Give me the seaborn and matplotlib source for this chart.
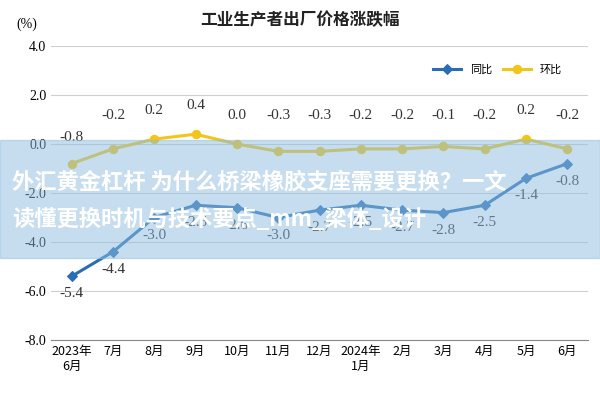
import matplotlib
matplotlib.use("Agg")
import matplotlib.pyplot as plt
import seaborn as sns
import pandas as pd

months = ["2023年\n6月","7月","8月","9月","10月","11月","12月","2024年\n1月","2月","3月","4月","5月","6月"]
yoy = [-5.4,-4.4,-3.0,-2.5,-2.6,-3.0,-2.7,-2.5,-2.7,-2.8,-2.5,-1.4,-0.8]
mom = [-0.8,-0.2,0.2,0.4,0.0,-0.3,-0.3,-0.2,-0.2,-0.1,-0.2,0.2,-0.2]
yticks = [4.0,2.0,0.0,-2.0,-4.0,-6.0,-8.0]

cjk = "Noto Sans CJK SC"
serif = "Liberation Serif"
df = pd.DataFrame({"x": range(len(months)), "同比": yoy, "环比": mom})

fig = plt.figure(figsize=(6, 4), dpi=100)
ax = fig.add_axes([0.085, 0.15, 0.895, 0.735])
blue, yellow = "#2a6db5", "#f2c516"
sns.lineplot(data=df, x="x", y="同比", ax=ax, color=blue, lw=2.2, marker="D", ms=5, mec=blue, label="同比")
sns.lineplot(data=df, x="x", y="环比", ax=ax, color=yellow, lw=2.2, marker="o", ms=6, mec=yellow, label="环比")
ax.set_ylim(-8, 4)
ax.set_xlim(-0.5, len(months) - 0.5)
ax.set_yticks(yticks)
ax.set_yticklabels([f"{v:.1f}" for v in yticks], fontfamily=serif, fontsize=10)
ax.set_xticks(range(len(months)))
ax.set_xticklabels(months, fontfamily=cjk, fontsize=9)
ax.set_xlabel(""); ax.set_ylabel("")
ax.grid(axis="y", color="#d0d0d0", lw=0.8)
for s in ["top", "right", "left"]:
    ax.spines[s].set_visible(False)
ax.spines["bottom"].set_color("#888")
ax.tick_params(axis="both", length=0)
for i, (a, b) in enumerate(zip(yoy, mom)):
    ax.text(i, a - 0.45, f"{a:.1f}", ha="center", va="top", fontfamily=serif, fontsize=11, color="#333")
    ax.text(i, max(b, 0) + 0.9 if i > 0 else 0.0, f"{b:.1f}", ha="center", va="bottom", fontfamily=serif, fontsize=11, color="#333")
ax.legend(loc="upper right", bbox_to_anchor=(0.97, 0.97), ncol=2, frameon=False,
          prop={"family": cjk, "size": 8}, handlelength=2.5, columnspacing=1)
fig.text(0.5, 0.95, "工业生产者出厂价格涨跌幅", ha="center", va="center", fontfamily=cjk, fontsize=12, fontweight="bold", color="#222")
fig.text(0.045, 0.94, "(%)", ha="center", va="center", fontfamily=serif, fontsize=10)
fig.patches.append(plt.Rectangle((0, 0.355), 1, 0.295, transform=fig.transFigure, color="#8dbde0", alpha=0.5, zorder=5))
fig.text(0.02, 0.545, "外汇黄金杠杆 为什么桥梁橡胶支座需要更换？一文", ha="left", va="center", fontfamily=cjk, fontsize=16, fontweight="bold", color="white", zorder=6)
fig.text(0.02, 0.45, "读懂更换时机与技术要点_mm_梁体_设计", ha="left", va="center", fontfamily=cjk, fontsize=16, fontweight="bold", color="white", zorder=6)
fig.savefig("out.png", dpi=100)
